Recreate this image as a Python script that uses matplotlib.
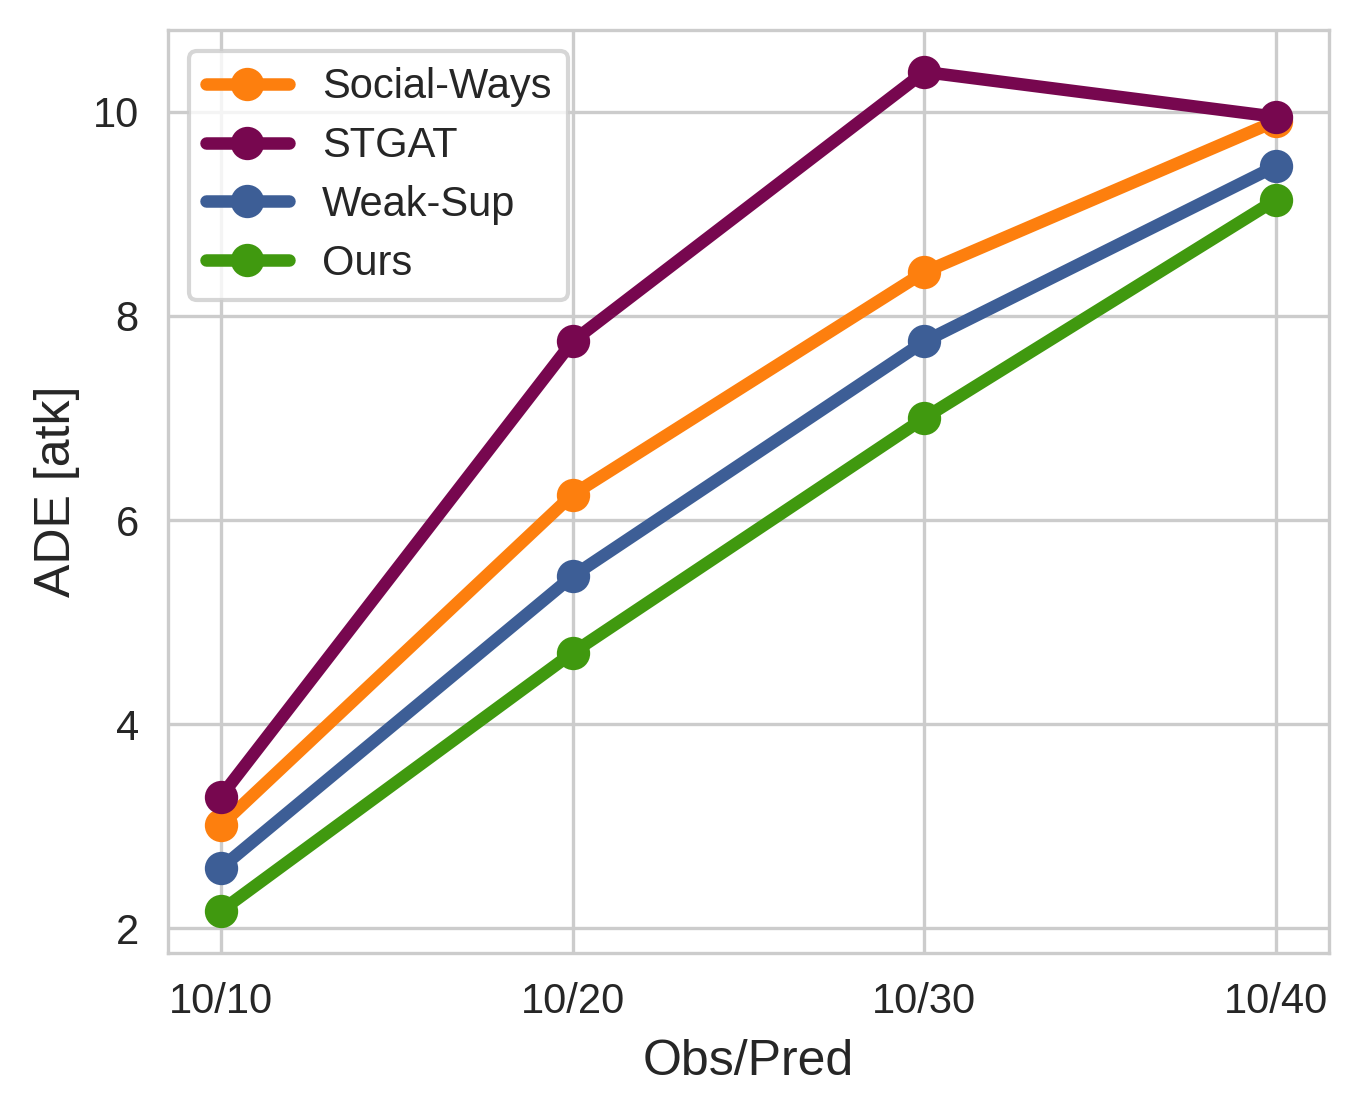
import matplotlib
matplotlib.use("Agg")
import matplotlib.pyplot as plt
import seaborn as sns

categories = ["10/10", "10/20", "10/30", "10/40"]
social_ways = [3.01, 6.25, 8.43, 9.91]
stgat = [3.29, 7.75, 10.39, 9.95]
weak_sup = [2.59, 5.45, 7.75, 9.47]
ours = [2.17, 4.70, 7.00, 9.14]

sns.set_theme(style="whitegrid", context="notebook")
plt.rcParams["font.family"] = ["Liberation Sans", "DejaVu Sans"]
plt.rcParams["axes.linewidth"] = 0.8
plt.rcParams["grid.linewidth"] = 0.8

fig = plt.figure(figsize=(1360 / 300, 1114 / 300), dpi=300)
ax = fig.add_axes([168 / 1360, 1 - 953 / 1114, (1329 - 168) / 1360, (953 - 30) / 1114])

x = list(range(len(categories)))
series = [
    ("Social-Ways", social_ways, "#fd7f0e"),
    ("STGAT", stgat, "#77074f"),
    ("Weak-Sup", weak_sup, "#3d5e96"),
    ("Ours", ours, "#40990f"),
]
for name, vals, col in series:
    ax.plot(x, vals, color=col, lw=3, marker="o", markersize=7, label=name,
            solid_capstyle="round")

ax.set_xticks(x)
ax.set_xticklabels(categories)
ax.set_yticks([2, 4, 6, 8, 10])
ax.tick_params(labelsize=10, length=0, pad=7)
ax.set_xlabel("Obs/Pred", fontsize=12, labelpad=4)
ax.set_ylabel("ADE [atk]", fontsize=12, labelpad=3)
ax.legend(loc="upper left", fontsize=10, labelspacing=0.45)

fig.savefig("out.png", dpi=300)
